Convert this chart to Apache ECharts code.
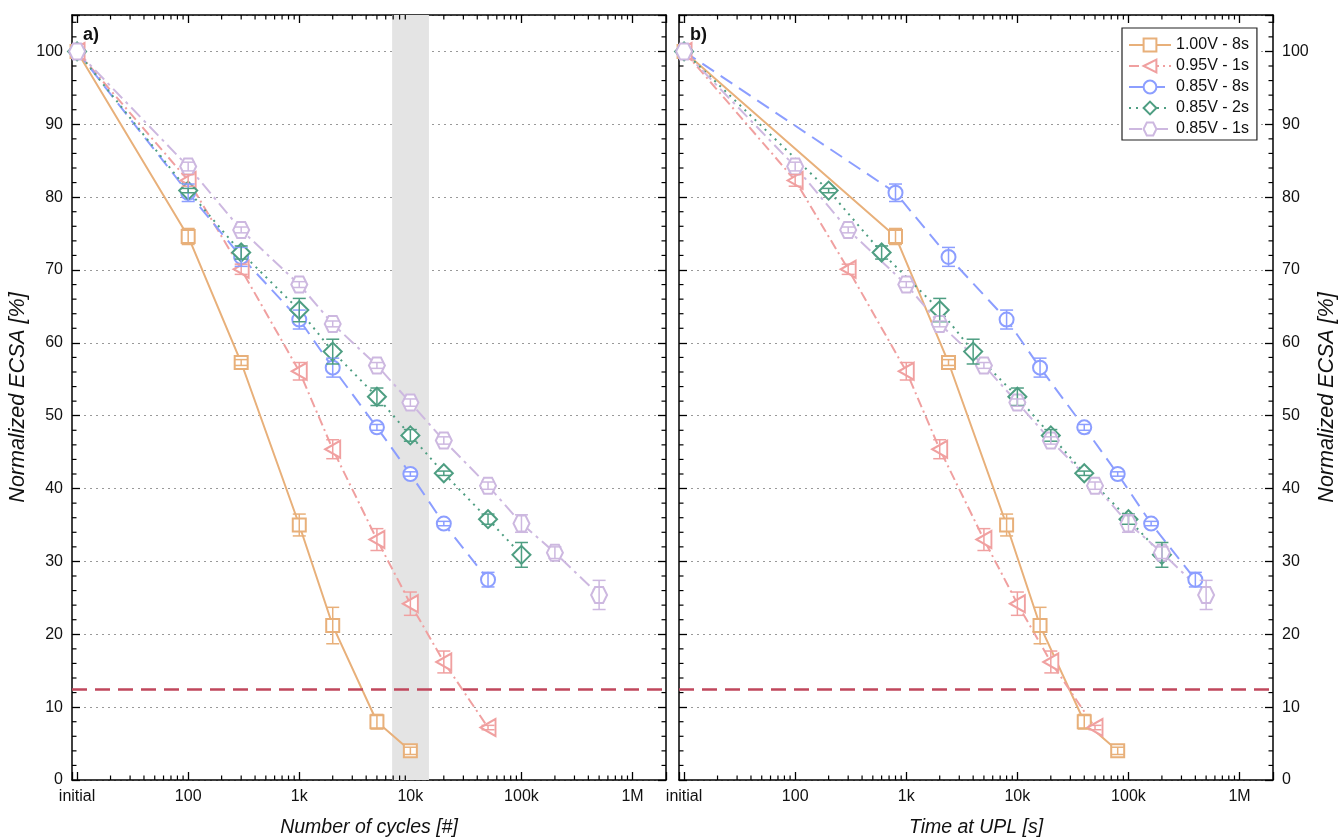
<!DOCTYPE html>
<html>
<head>
<meta charset="utf-8">
<script src="https://cdn.jsdelivr.net/npm/echarts@6/dist/echarts.min.js"></script>
<style>
  html, body { margin: 0; padding: 0; background: #fff; }
  #main { width: 1339px; height: 839px; }
</style>
</head>
<body>
<div id="main"></div>
<script>
// x = 10 stands for the "initial" measurement
var decadeLabels = { 10: 'initial', 100: '100', 1000: '1k', 10000: '10k', 100000: '100k', 1000000: '1M' };

// 1.00V - 8s
var cyc100V8  = [10, 100, 300, 1000, 2000, 5000, 10000];
var time100V8 = [10, 800, 2400, 8000, 16000, 40000, 80000];
var ecsa100V8 = [100, 74.6, 57.3, 35.0, 21.2, 8.0, 4.0];
var err100V8  = [0, 1.1, 0.4, 1.5, 2.5, 1.0, 0.5];

// 0.95V - 1s
var cyc095V1  = [10, 100, 300, 1000, 2000, 5000, 10000, 20000, 50000];
var time095V1 = [10, 100, 300, 1000, 2000, 5000, 10000, 20000, 50000];
var ecsa095V1 = [100, 82.3, 70.1, 56.1, 45.4, 33.0, 24.2, 16.2, 7.2];
var err095V1  = [0, 0.8, 0.7, 1.2, 1.3, 1.5, 1.6, 1.5, 0.3];

// 0.85V - 8s
var cyc085V8  = [10, 100, 300, 1000, 2000, 5000, 10000, 20000, 50000];
var time085V8 = [10, 800, 2400, 8000, 16000, 40000, 80000, 160000, 400000];
var ecsa085V8 = [100, 80.6, 71.8, 63.2, 56.6, 48.4, 42.0, 35.2, 27.5];
var err085V8  = [0, 1.2, 1.3, 1.3, 1.3, 0.4, 0.3, 0.3, 1.0];

// 0.85V - 2s
var cyc085V2  = [10, 100, 300, 1000, 2000, 5000, 10000, 20000, 50000, 100000];
var time085V2 = [10, 200, 600, 2000, 4000, 10000, 20000, 40000, 100000, 200000];
var ecsa085V2 = [100, 80.9, 72.4, 64.5, 58.8, 52.6, 47.3, 42.1, 35.8, 30.9];
var err085V2  = [0, 0.3, 0.9, 1.6, 1.7, 1.2, 0.8, 0.3, 0.7, 1.7];

// 0.85V - 1s
var cyc085V1  = [10, 100, 300, 1000, 2000, 5000, 10000, 20000, 50000, 100000, 200000, 500000];
var time085V1 = [10, 100, 300, 1000, 2000, 5000, 10000, 20000, 50000, 100000, 200000, 500000];
var ecsa085V1 = [100, 84.2, 75.5, 68.0, 62.6, 56.9, 51.8, 46.6, 40.4, 35.2, 31.2, 25.4];
var err085V1  = [0, 0.6, 0.4, 0.4, 0.4, 0.4, 0.5, 0.5, 0.5, 1.2, 0.8, 2.0];

var thresholdLine = 12.5;
var shadedCycles = [6850, 14700];

// minor tick positions
var minorMult = [2, 3, 4, 5, 6, 7, 8, 9];
var minorDecades = [10, 100, 1000, 10000, 100000];
var minorX = [];
minorDecades.forEach(function (d) { minorMult.forEach(function (m) { minorX.push([d * m, 50]); }); });
var minorY = [];
for (var v = 2; v < 105; v += 2) { if (v % 10 !== 0) minorY.push([100, v]); }

var hexPath = 'path://M2,0 L6,0 L8,3.46 L6,6.93 L2,6.93 L0,3.46 Z';
var triPath = 'path://M0,5 L9,0 L9,10 Z';

var curves = [
  { name: '1.00V - 8s', color: '#E8B07A', symbol: 'rect', size: 13, dash: 'solid',
    cyc: cyc100V8, time: time100V8, y: ecsa100V8, err: err100V8 },
  { name: '0.95V - 1s', color: '#F0A0A0', symbol: triPath, size: [15, 17], dash: [10, 4, 2, 4],
    cyc: cyc095V1, time: time095V1, y: ecsa095V1, err: err095V1 },
  { name: '0.85V - 8s', color: '#8C9EFF', symbol: 'circle', size: 14, dash: [14, 8],
    cyc: cyc085V8, time: time085V8, y: ecsa085V8, err: err085V8 },
  { name: '0.85V - 2s', color: '#4E9E82', symbol: 'diamond', size: 18, dash: [2, 5],
    cyc: cyc085V2, time: time085V2, y: ecsa085V2, err: err085V2 },
  { name: '0.85V - 1s', color: '#CDB8E0', symbol: hexPath, size: 16, dash: [13, 5, 3, 5],
    cyc: cyc085V1, time: time085V1, y: ecsa085V1, err: err085V1 }
];

var myChart = echarts.init(document.getElementById('main'));

function xAxisDef(grid, pos, name) {
  return {
    type: 'log', gridIndex: grid, position: pos, min: 9, max: 2000000, logBase: 10,
    name: name, nameLocation: 'middle', nameGap: 38,
    nameTextStyle: { fontSize: 19.5, fontStyle: 'italic', color: '#111' },
    axisLine: { show: true, onZero: false, lineStyle: { color: '#000', width: 1.5 } },
    axisTick: { show: true, inside: true, length: 8, lineStyle: { color: '#000', width: 1.3 } },
    axisLabel: { show: pos === 'bottom', fontSize: 16, color: '#111', margin: 9,
      formatter: function (v) { return decadeLabels[Math.round(v)] || ''; } },
    splitLine: { show: false }, minorTick: { show: false }
  };
}

function yAxisDef(grid, pos, labels, split) {
  return {
    type: 'value', gridIndex: grid, position: pos, min: 0, max: 105, interval: 10,
    name: labels ? 'Normalized ECSA [%]' : '', nameLocation: 'middle', nameGap: 43, nameRotate: 90,
    nameTextStyle: { fontSize: 21.5, fontStyle: 'italic', color: '#111' },
    axisLine: { show: true, onZero: false, lineStyle: { color: '#000', width: 1.5 } },
    axisTick: { show: true, inside: true, length: 8, lineStyle: { color: '#000', width: 1.3 } },
    axisLabel: { show: labels, fontSize: 16, color: '#111', margin: 9,
      formatter: function (v) { return v > 100 ? '' : v; } },
    splitLine: { show: split, lineStyle: { color: '#999', type: [2, 4], width: 1 } }
  };
}

function tickSeries(xi, yi, data, isX) {
  return {
    type: 'custom', xAxisIndex: xi, yAxisIndex: yi, data: data, silent: true, z: 10,
    encode: { x: 0, y: 1 },
    renderItem: function (params, api) {
      var cs = params.coordSys;
      var st = { stroke: '#000', lineWidth: 1.2 };
      if (isX) {
        var px = api.coord([api.value(0), 50])[0];
        return { type: 'group', children: [
          { type: 'line', shape: { x1: px, y1: cs.y + cs.height, x2: px, y2: cs.y + cs.height - 4.5 }, style: st },
          { type: 'line', shape: { x1: px, y1: cs.y, x2: px, y2: cs.y + 4.5 }, style: st }
        ] };
      }
      var py = api.coord([100, api.value(1)])[1];
      return { type: 'group', children: [
        { type: 'line', shape: { x1: cs.x, y1: py, x2: cs.x + 4.5, y2: py }, style: st },
        { type: 'line', shape: { x1: cs.x + cs.width, y1: py, x2: cs.x + cs.width - 4.5, y2: py }, style: st }
      ] };
    }
  };
}

function errorSeries(c, xs, xi, yi) {
  var data = [];
  for (var i = 0; i < xs.length; i++) {
    if (c.err[i] > 0) data.push([xs[i], c.y[i], c.err[i]]);
  }
  return {
    type: 'custom', xAxisIndex: xi, yAxisIndex: yi, data: data, silent: true, z: 5,
    encode: { x: 0, y: 1 },
    renderItem: function (params, api) {
      var x = api.value(0), y = api.value(1), e = api.value(2);
      var top = api.coord([x, y + e]);
      var bot = api.coord([x, y - e]);
      var hw = 6.5;
      var st = { stroke: c.color, lineWidth: 1.5 };
      return { type: 'group', children: [
        { type: 'line', shape: { x1: top[0], y1: top[1], x2: bot[0], y2: bot[1] }, style: st },
        { type: 'line', shape: { x1: top[0] - hw, y1: top[1], x2: top[0] + hw, y2: top[1] }, style: st },
        { type: 'line', shape: { x1: bot[0] - hw, y1: bot[1], x2: bot[0] + hw, y2: bot[1] }, style: st }
      ] };
    }
  };
}

function lineSeries(c, xs, xi, yi) {
  var data = xs.map(function (x, i) { return [x, c.y[i]]; });
  return {
    name: c.name, type: 'line', xAxisIndex: xi, yAxisIndex: yi, data: data, z: 3,
    symbol: c.symbol, symbolSize: c.size, showAllSymbol: true,
    lineStyle: { color: c.color, width: 2, type: c.dash },
    itemStyle: { color: '#fff', borderColor: c.color, borderWidth: 2 }
  };
}

var redMark = {
  symbol: 'none', silent: true, label: { show: false },
  lineStyle: { color: '#C0475C', type: [15, 8], width: 2.5 },
  data: [{ yAxis: thresholdLine }]
};

var series = [
  // shaded region in panel a
  { type: 'line', xAxisIndex: 0, yAxisIndex: 0, data: [], z: -1, silent: true,
    markArea: { silent: true, itemStyle: { color: '#E4E4E4' },
      data: [[{ xAxis: shadedCycles[0] }, { xAxis: shadedCycles[1] }]] } },
  { type: 'line', xAxisIndex: 0, yAxisIndex: 0, data: [], z: 2, silent: true, markLine: redMark },
  { type: 'line', xAxisIndex: 2, yAxisIndex: 2, data: [], z: 2, silent: true, markLine: redMark },
  tickSeries(0, 0, minorX, true), tickSeries(0, 0, minorY, false),
  tickSeries(2, 2, minorX, true), tickSeries(2, 2, minorY, false)
];
curves.forEach(function (c) {
  series.push(lineSeries(c, c.cyc, 0, 0));
  series.push(errorSeries(c, c.cyc, 0, 0));
  series.push(lineSeries(c, c.time, 2, 2));
  series.push(errorSeries(c, c.time, 2, 2));
});

var option = {
  animation: false,
  textStyle: { fontFamily: 'Liberation Sans, Arial, sans-serif' },
  grid: [
    { left: 72, top: 15, width: 594, height: 765, outerBoundsMode: 'none', containLabel: false },
    { left: 679, top: 15, width: 594, height: 765, outerBoundsMode: 'none', containLabel: false }
  ],
  xAxis: [
    xAxisDef(0, 'bottom', 'Number of cycles [#]'),
    xAxisDef(0, 'top', ''),
    xAxisDef(1, 'bottom', 'Time at UPL [s]'),
    xAxisDef(1, 'top', '')
  ],
  yAxis: [
    yAxisDef(0, 'left', true, true),
    yAxisDef(0, 'right', false, false),
    yAxisDef(1, 'left', false, true),
    yAxisDef(1, 'right', true, false)
  ],
  legend: {
    data: curves.map(function (c) { return c.name; }),
    orient: 'vertical', left: 1122, top: 28,
    backgroundColor: '#fff', borderColor: '#222', borderWidth: 1.2, borderRadius: 0,
    padding: [9, 8, 3, 6], itemGap: 5, itemWidth: 42, itemHeight: 16,
    textStyle: { fontSize: 16, color: '#111' }
  },
  graphic: [
    { type: 'text', left: 83, top: 26, style: { text: 'a)', font: 'bold 18px Liberation Sans', fill: '#111' } },
    { type: 'text', left: 690, top: 26, style: { text: 'b)', font: 'bold 18px Liberation Sans', fill: '#111' } }
  ],
  series: series
};

myChart.setOption(option);
</script>
</body>
</html>
